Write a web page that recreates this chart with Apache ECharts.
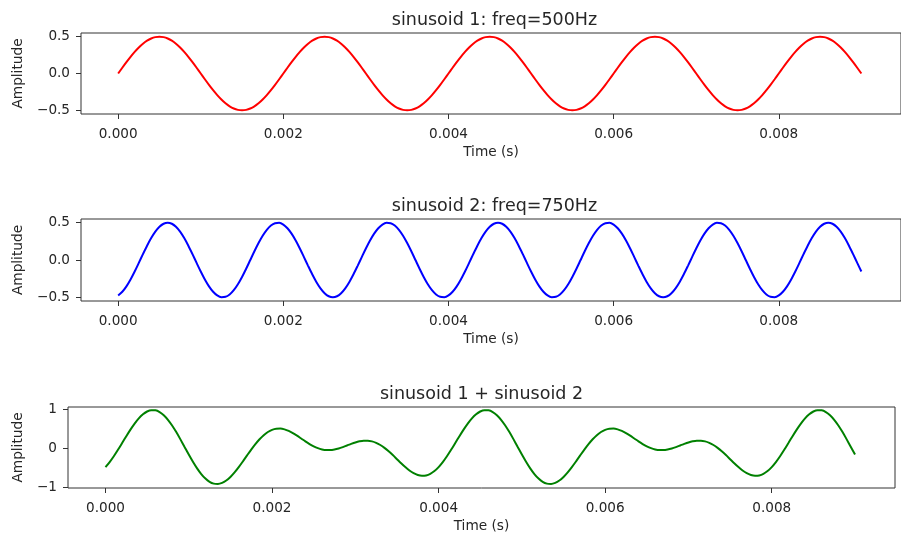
<!DOCTYPE html>
<html><head><meta charset="utf-8">
<script src="https://cdn.jsdelivr.net/npm/echarts@6/dist/echarts.min.js"></script>
<style>html,body{margin:0;padding:0;background:#fff}#c{width:901px;height:536px}</style>
</head><body><div id="c"></div>
<script>
// sample times in microseconds
const timeMicro = [
0,50,100,150,200,250,300,350,400,450,500,550,600,650,700,750,800,850,900,950,
1000,1050,1100,1150,1200,1250,1300,1350,1400,1450,1500,1550,1600,1650,1700,1750,1800,1850,1900,1950,
2000,2050,2100,2150,2200,2250,2300,2350,2400,2450,2500,2550,2600,2650,2700,2750,2800,2850,2900,2950,
3000,3050,3100,3150,3200,3250,3300,3350,3400,3450,3500,3550,3600,3650,3700,3750,3800,3850,3900,3950,
4000,4050,4100,4150,4200,4250,4300,4350,4400,4450,4500,4550,4600,4650,4700,4750,4800,4850,4900,4950,
5000,5050,5100,5150,5200,5250,5300,5350,5400,5450,5500,5550,5600,5650,5700,5750,5800,5850,5900,5950,
6000,6050,6100,6150,6200,6250,6300,6350,6400,6450,6500,6550,6600,6650,6700,6750,6800,6850,6900,6950,
7000,7050,7100,7150,7200,7250,7300,7350,7400,7450,7500,7550,7600,7650,7700,7750,7800,7850,7900,7950,
8000,8050,8100,8150,8200,8250,8300,8350,8400,8450,8500,8550,8600,8650,8700,8750,8800,8850,8900,8950,
9000];
const sinusoid1 = [
0,0.0782,0.1545,0.2270,0.2939,0.3536,0.4045,0.4455,0.4755,0.4938,0.5,0.4938,0.4755,0.4455,0.4045,0.3536,0.2939,0.2270,0.1545,0.0782,
0,-0.0782,-0.1545,-0.2270,-0.2939,-0.3536,-0.4045,-0.4455,-0.4755,-0.4938,-0.5,-0.4938,-0.4755,-0.4455,-0.4045,-0.3536,-0.2939,-0.2270,-0.1545,-0.0782,
0,0.0782,0.1545,0.2270,0.2939,0.3536,0.4045,0.4455,0.4755,0.4938,0.5,0.4938,0.4755,0.4455,0.4045,0.3536,0.2939,0.2270,0.1545,0.0782,
0,-0.0782,-0.1545,-0.2270,-0.2939,-0.3536,-0.4045,-0.4455,-0.4755,-0.4938,-0.5,-0.4938,-0.4755,-0.4455,-0.4045,-0.3536,-0.2939,-0.2270,-0.1545,-0.0782,
0,0.0782,0.1545,0.2270,0.2939,0.3536,0.4045,0.4455,0.4755,0.4938,0.5,0.4938,0.4755,0.4455,0.4045,0.3536,0.2939,0.2270,0.1545,0.0782,
0,-0.0782,-0.1545,-0.2270,-0.2939,-0.3536,-0.4045,-0.4455,-0.4755,-0.4938,-0.5,-0.4938,-0.4755,-0.4455,-0.4045,-0.3536,-0.2939,-0.2270,-0.1545,-0.0782,
0,0.0782,0.1545,0.2270,0.2939,0.3536,0.4045,0.4455,0.4755,0.4938,0.5,0.4938,0.4755,0.4455,0.4045,0.3536,0.2939,0.2270,0.1545,0.0782,
0,-0.0782,-0.1545,-0.2270,-0.2939,-0.3536,-0.4045,-0.4455,-0.4755,-0.4938,-0.5,-0.4938,-0.4755,-0.4455,-0.4045,-0.3536,-0.2939,-0.2270,-0.1545,-0.0782,
0,0.0782,0.1545,0.2270,0.2939,0.3536,0.4045,0.4455,0.4755,0.4938,0.5,0.4938,0.4755,0.4455,0.4045,0.3536,0.2939,0.2270,0.1545,0.0782,
0];
const sinusoid2 = [
-0.4755,-0.4263,-0.3536,-0.2612,-0.1545,-0.0392,0.0782,0.1913,0.2939,0.3802,0.4455,0.4862,0.5,0.4862,0.4455,0.3802,0.2939,0.1913,0.0782,-0.0392,
-0.1545,-0.2612,-0.3536,-0.4263,-0.4755,-0.4985,-0.4938,-0.4619,-0.4045,-0.3247,-0.2270,-0.1167,0,0.1167,0.2270,0.3247,0.4045,0.4619,0.4938,0.4985,
0.4755,0.4263,0.3536,0.2612,0.1545,0.0392,-0.0782,-0.1913,-0.2939,-0.3802,-0.4455,-0.4862,-0.5,-0.4862,-0.4455,-0.3802,-0.2939,-0.1913,-0.0782,0.0392,
0.1545,0.2612,0.3536,0.4263,0.4755,0.4985,0.4938,0.4619,0.4045,0.3247,0.2270,0.1167,0,-0.1167,-0.2270,-0.3247,-0.4045,-0.4619,-0.4938,-0.4985,
-0.4755,-0.4263,-0.3536,-0.2612,-0.1545,-0.0392,0.0782,0.1913,0.2939,0.3802,0.4455,0.4862,0.5,0.4862,0.4455,0.3802,0.2939,0.1913,0.0782,-0.0392,
-0.1545,-0.2612,-0.3536,-0.4263,-0.4755,-0.4985,-0.4938,-0.4619,-0.4045,-0.3247,-0.2270,-0.1167,0,0.1167,0.2270,0.3247,0.4045,0.4619,0.4938,0.4985,
0.4755,0.4263,0.3536,0.2612,0.1545,0.0392,-0.0782,-0.1913,-0.2939,-0.3802,-0.4455,-0.4862,-0.5,-0.4862,-0.4455,-0.3802,-0.2939,-0.1913,-0.0782,0.0392,
0.1545,0.2612,0.3536,0.4263,0.4755,0.4985,0.4938,0.4619,0.4045,0.3247,0.2270,0.1167,0,-0.1167,-0.2270,-0.3247,-0.4045,-0.4619,-0.4938,-0.4985,
-0.4755,-0.4263,-0.3536,-0.2612,-0.1545,-0.0392,0.0782,0.1913,0.2939,0.3802,0.4455,0.4862,0.5,0.4862,0.4455,0.3802,0.2939,0.1913,0.0782,-0.0392,
-0.1545];
const sinusoidSum = [
-0.4755,-0.3481,-0.1991,-0.0342,0.1394,0.3144,0.4827,0.6368,0.7694,0.8740,0.9455,0.9800,0.9755,0.9317,0.8500,0.7338,0.5878,0.4183,0.2327,0.0390,
-0.1545,-0.3394,-0.5081,-0.6533,-0.7694,-0.8521,-0.8983,-0.9074,-0.8800,-0.8185,-0.7270,-0.6105,-0.4755,-0.3288,-0.1775,-0.0289,0.1106,0.2349,0.3393,0.4203,
0.4755,0.5045,0.5081,0.4882,0.4484,0.3928,0.3263,0.2542,0.1816,0.1136,0.0545,0.0076,-0.0245,-0.0407,-0.0410,-0.0266,0,0.0357,0.0763,0.1174,
0.1545,0.1830,0.1991,0.1993,0.1816,0.1449,0.0893,0.0164,-0.0710,-0.1691,-0.2730,-0.3771,-0.4755,-0.5622,-0.6315,-0.6783,-0.6984,-0.6889,-0.6483,-0.5767,
-0.4755,-0.3481,-0.1991,-0.0342,0.1394,0.3144,0.4827,0.6368,0.7694,0.8740,0.9455,0.9800,0.9755,0.9317,0.8500,0.7338,0.5878,0.4183,0.2327,0.0390,
-0.1545,-0.3394,-0.5081,-0.6533,-0.7694,-0.8521,-0.8983,-0.9074,-0.8800,-0.8185,-0.7270,-0.6105,-0.4755,-0.3288,-0.1775,-0.0289,0.1106,0.2349,0.3393,0.4203,
0.4755,0.5045,0.5081,0.4882,0.4484,0.3928,0.3263,0.2542,0.1816,0.1136,0.0545,0.0076,-0.0245,-0.0407,-0.0410,-0.0266,0,0.0357,0.0763,0.1174,
0.1545,0.1830,0.1991,0.1993,0.1816,0.1449,0.0893,0.0164,-0.0710,-0.1691,-0.2730,-0.3771,-0.4755,-0.5622,-0.6315,-0.6783,-0.6984,-0.6889,-0.6483,-0.5767,
-0.4755,-0.3481,-0.1991,-0.0342,0.1394,0.3144,0.4827,0.6368,0.7694,0.8740,0.9455,0.9800,0.9755,0.9317,0.8500,0.7338,0.5878,0.4183,0.2327,0.0390,
-0.1545];
const titles = ['sinusoid 1: freq=500Hz', 'sinusoid 2: freq=750Hz', 'sinusoid 1 + sinusoid 2'];
const xTicks = [0, 0.002, 0.004, 0.006, 0.008];
const yTicksHalf = [-0.5, 0, 0.5];
const yTicksSum = [-1, 0, 1];
const xName = 'Time (s)';
const yName = 'Amplitude';

const FONT = 'DejaVu Sans';
const TXT = '#262626';
const FRAME = '#333';
const seriesValues = [sinusoid1, sinusoid2, sinusoidSum];
const colors = ['#ff0000', '#0000ff', '#008000'];
const grids = [
  {left: 81, top: 33, width: 827, height: 81},
  {left: 81, top: 219, width: 827, height: 82},
  {left: 68, top: 407, width: 827, height: 81}
];
const yRanges = [[-0.55, 0.55], [-0.55, 0.55], [-1.01, 1.06]];
const yTickSets = [yTicksHalf, yTicksHalf, yTicksSum];
const yDigits = [1, 1, 0];
const yNameGaps = [56, 56, 43];
const titleTops = [11, 197, 385];

function fmt(v, d) {
  const s = Math.abs(v).toFixed(d);
  return (v < -1e-12 ? '\u2212' : '') + s;
}

const option = {
  backgroundColor: '#fff',
  animation: false,
  title: titles.map((t, i) => ({
    text: t,
    left: grids[i].left + 413.5,
    top: titleTops[i],
    textAlign: 'center',
    padding: 0,
    textStyle: {fontFamily: FONT, fontSize: 17.5, fontWeight: 'normal', color: TXT}
  })),
  grid: grids.map(g => Object.assign({show: true, borderColor: FRAME, borderWidth: 1, backgroundColor: 'transparent', containLabel: false}, g)),
  xAxis: grids.map((g, i) => ({
    type: 'value', gridIndex: i, min: -0.00045, max: 0.00948,
    name: xName, nameLocation: 'middle', nameGap: 31,
    nameTextStyle: {fontFamily: FONT, fontSize: 13.7, color: TXT},
    axisLine: {show: false, onZero: false},
    splitLine: {show: false},
    axisTick: {show: true, length: 5, lineStyle: {color: FRAME, width: 1}, customValues: xTicks},
    axisLabel: {customValues: xTicks, margin: 13, fontFamily: FONT, fontSize: 13.6, color: TXT,
      formatter: v => fmt(v, 3)}
  })),
  yAxis: grids.map((g, i) => ({
    type: 'value', gridIndex: i, min: yRanges[i][0], max: yRanges[i][1],
    name: yName, nameLocation: 'middle', nameGap: yNameGaps[i],
    nameTextStyle: {fontFamily: FONT, fontSize: 13.7, color: TXT},
    axisLine: {show: false, onZero: false},
    splitLine: {show: false},
    axisTick: {show: true, length: 5, lineStyle: {color: FRAME, width: 1}, customValues: yTickSets[i]},
    axisLabel: {customValues: yTickSets[i], margin: 11, fontFamily: FONT, fontSize: 13.6, color: TXT,
      formatter: v => fmt(v, yDigits[i])}
  })),
  series: seriesValues.map((vals, i) => ({
    type: 'line', xAxisIndex: i, yAxisIndex: i,
    data: timeMicro.map((t, k) => [t / 1e6, vals[k]]),
    showSymbol: false, symbol: 'none', smooth: 0.3,
    lineStyle: {color: colors[i], width: 2},
    itemStyle: {color: colors[i]}
  }))
};
const chart = echarts.init(document.getElementById('c'), null, {renderer: 'canvas'});
chart.setOption(option);
</script>
</body></html>
